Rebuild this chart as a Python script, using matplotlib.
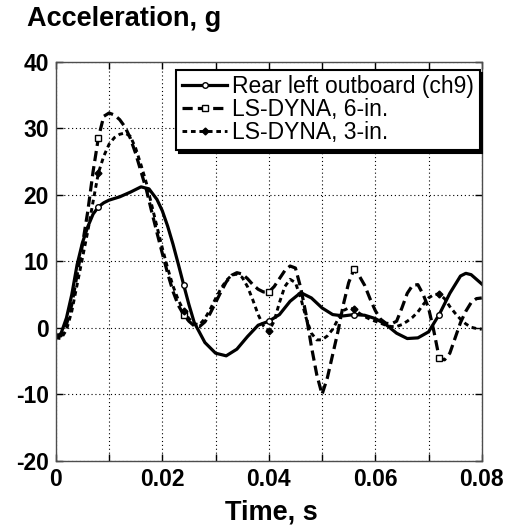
import numpy as np
import matplotlib
matplotlib.use("Agg")
import matplotlib.pyplot as plt

plt.rcParams['font.family'] = ['Liberation Sans', 'DejaVu Sans']
plt.rcParams['axes.unicode_minus'] = False

# Test data: Rear left outboard accelerometer (ch9)
ch9_t = [0, 0.001, 0.002, 0.003, 0.004, 0.005, 0.006, 0.007, 0.008, 0.009, 0.010,
         0.012, 0.014, 0.016, 0.0175, 0.019, 0.020, 0.021, 0.022, 0.023, 0.024,
         0.025, 0.026, 0.028, 0.030, 0.032, 0.034, 0.036, 0.038, 0.040, 0.042,
         0.044, 0.046, 0.048, 0.050, 0.052, 0.054, 0.056, 0.058, 0.060, 0.062,
         0.064, 0.066, 0.068, 0.070, 0.072, 0.074, 0.076, 0.077, 0.078, 0.080]
ch9_a = [-1.5, -0.8, 1.5, 5.0, 9.5, 12.8, 15.2, 17.1, 18.2, 18.8, 19.2,
         19.7, 20.4, 21.2, 20.9, 19.3, 17.6, 15.3, 12.6, 9.6, 6.5,
         3.5, 0.8, -2.2, -3.8, -4.2, -3.2, -1.3, 0.4, 1.0, 2.0,
         4.0, 5.3, 4.5, 3.0, 2.0, 1.8, 2.0, 1.9, 1.4, 0.5,
         -0.8, -1.6, -1.5, -0.6, 2.0, 5.2, 7.8, 8.2, 8.0, 6.6]

# LS-DYNA simulations, sampled every millisecond
dyna_t = [0.000, 0.001, 0.002, 0.003, 0.004, 0.005, 0.006, 0.007, 0.008, 0.009,
          0.010, 0.011, 0.012, 0.013, 0.014, 0.015, 0.016, 0.017, 0.018, 0.019,
          0.020, 0.021, 0.022, 0.023, 0.024, 0.025, 0.026, 0.027, 0.028, 0.029,
          0.030, 0.031, 0.032, 0.033, 0.034, 0.035, 0.036, 0.037, 0.038, 0.039,
          0.040, 0.041, 0.042, 0.043, 0.044, 0.045, 0.046, 0.047, 0.048, 0.049,
          0.050, 0.051, 0.052, 0.053, 0.054, 0.055, 0.056, 0.057, 0.058, 0.059,
          0.060, 0.061, 0.062, 0.063, 0.064, 0.065, 0.066, 0.067, 0.068, 0.069,
          0.070, 0.071, 0.072, 0.073, 0.074, 0.075, 0.076, 0.077, 0.078, 0.079,
          0.080]
dyna6_a = [-1.0, -1.2, 0.5, 3.5, 8.0, 12.5, 17.5, 23.5, 28.6, 31.8,
           32.3, 32.0, 31.3, 30.2, 28.5, 26.2, 23.5, 20.8, 17.5, 14.3,
           11.2, 8.2, 5.5, 3.4, 2.0, 1.0, 0.3, 0.2, 0.9, 2.2,
           3.8, 5.4, 6.9, 7.9, 8.3, 8.1, 7.4, 6.5, 5.8, 5.4,
           5.4, 6.2, 7.4, 8.6, 9.3, 9.0, 6.0, 2.0, -2.8, -7.0,
           -10.0, -7.5, -4.0, -0.5, 3.5, 6.8, 8.8, 7.8, 6.4, 4.4,
           2.6, 1.3, 0.7, 0.6, 1.0, 3.0, 5.2, 6.4, 6.5, 5.0,
           3.0, -0.5, -4.5, -4.8, -3.8, -1.5, 0.8, 2.5, 3.8, 4.4,
           4.5]
dyna3_a = [-1.5, -1.6, -0.3, 2.5, 6.5, 10.5, 14.5, 19.0, 23.3, 25.8,
           27.6, 28.6, 29.1, 29.3, 28.8, 27.0, 24.5, 21.8, 18.5, 15.2,
           12.0, 9.0, 6.3, 4.2, 2.6, 1.4, 0.6, 0.5, 1.4, 2.8,
           4.4, 5.9, 7.1, 7.9, 8.1, 7.6, 6.2, 4.2, 2.0, 0.3,
           -0.5, 1.0, 3.8, 6.2, 7.3, 6.8, 4.5, 1.5, -0.8, -1.8,
           -1.8, -1.2, -0.2, 1.3, 2.6, 3.0, 2.8, 2.2, 1.7, 1.3,
           1.0, 0.7, 0.4, 0.2, 0.2, 0.5, 1.0, 1.6, 2.4, 3.5,
           4.5, 5.0, 5.1, 4.4, 3.2, 2.2, 1.3, 0.6, 0.1, -0.1,
           -0.2]

series_labels = ['Rear left outboard (ch9)', 'LS-DYNA, 6-in.', 'LS-DYNA, 3-in.']
marker_times = [0.008, 0.024, 0.040, 0.056, 0.072]
x_ticks = [0, 0.02, 0.04, 0.06, 0.08]
x_tick_labels = ['0', '0.02', '0.04', '0.06', '0.08']
y_ticks = [-20, -10, 0, 10, 20, 30, 40]


def mark_idx(t):
    t = np.asarray(t)
    return [int(np.argmin(np.abs(t - m))) for m in marker_times]


fig = plt.figure(figsize=(5.12, 5.28), dpi=100)
ax = fig.add_axes([0.109, 0.127, 0.832, 0.756])

ax.plot(ch9_t, ch9_a, color='k', lw=2.3, marker='o', ms=4, mfc='white',
        mec='k', mew=1, markevery=mark_idx(ch9_t), label=series_labels[0])
ax.plot(dyna_t, dyna6_a, color='k', lw=2.3, dashes=(3.2, 1.6), marker='s',
        ms=4, mfc='white', mec='k', mew=1, markevery=mark_idx(dyna_t),
        label=series_labels[1])
ax.plot(dyna_t, dyna3_a, color='k', lw=2.1, dashes=(1.6, 1.3), marker='D',
        ms=3.5, mfc='k', mec='k', markevery=mark_idx(dyna_t),
        label=series_labels[2])

ax.set_xlim(0, 0.08)
ax.set_ylim(-20, 40)
ax.set_xticks(x_ticks)
ax.set_xticklabels(x_tick_labels)
ax.set_xticks(np.arange(0.01, 0.08, 0.02), minor=True)
ax.set_yticks(y_ticks)
ax.tick_params(which='both', direction='in', top=True, right=True,
               length=5, width=1, labelsize=16.5, pad=5)
for lab in ax.get_xticklabels() + ax.get_yticklabels():
    lab.set_fontweight('bold')
ax.grid(which='both', color='k', lw=0.8, linestyle=(0, (1, 2.5)))
for sp in ax.spines.values():
    sp.set_linewidth(1)
    sp.set_color('0.3')

leg = ax.legend(loc='upper right', bbox_to_anchor=(0.995, 0.98),
                borderaxespad=0, fontsize=16.5, handlelength=2.0,
                handletextpad=0.2, labelspacing=0.0, borderpad=0.25,
                fancybox=False, framealpha=1,
                shadow={'color': 'k', 'alpha': 1})
leg.get_frame().set_edgecolor('k')
leg.get_frame().set_linewidth(1.5)

fig.text(0.053, 0.964, 'Acceleration, g', fontsize=19.5, fontweight='bold',
         ha='left', va='center')
fig.text(0.531, 0.030, 'Time, s', fontsize=19.5, fontweight='bold',
         ha='center', va='center')

fig.savefig('out.png', dpi=100)
